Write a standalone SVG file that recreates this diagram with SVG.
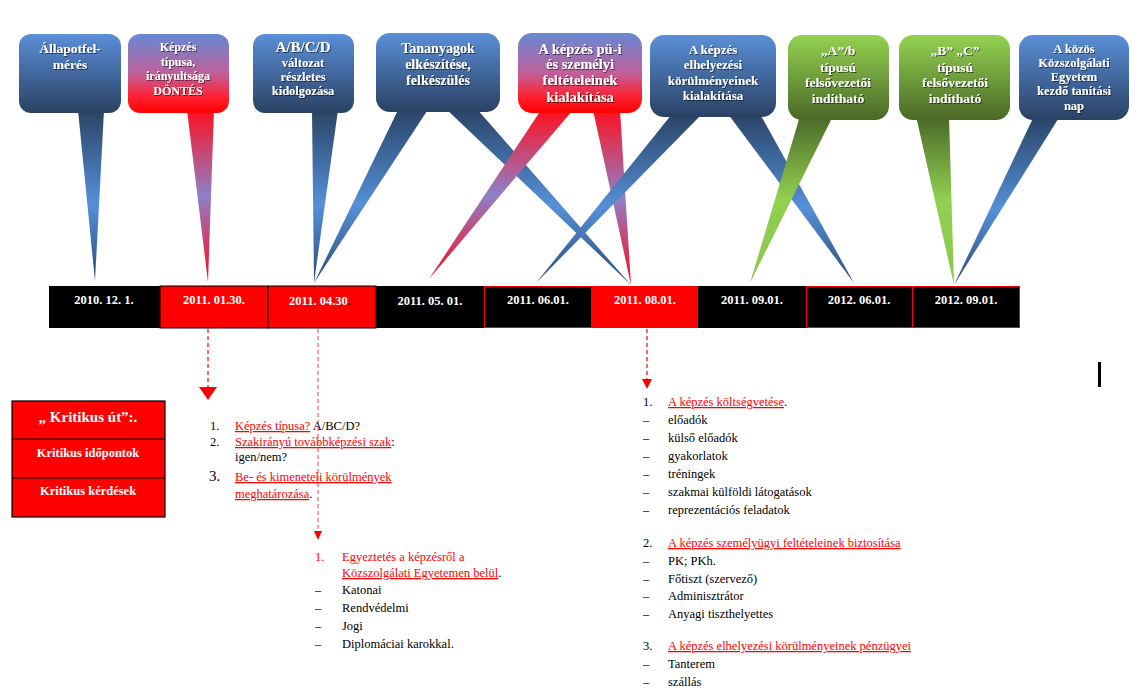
<svg xmlns="http://www.w3.org/2000/svg" width="1143" height="698" viewBox="0 0 1143 698">
<defs>
<linearGradient id="gBox" x1="0" y1="0" x2="0" y2="1"><stop offset="0" stop-color="#5A8FD8"/><stop offset="1" stop-color="#2A4163"/></linearGradient>
<linearGradient id="gRedBox" x1="0" y1="0" x2="0" y2="1"><stop offset="0" stop-color="#6688D4"/><stop offset="0.5" stop-color="#C0609A"/><stop offset="0.8" stop-color="#FF2030"/><stop offset="1" stop-color="#FF0000"/></linearGradient>
<linearGradient id="gGreenBox" x1="0" y1="0" x2="0" y2="1"><stop offset="0" stop-color="#94D251"/><stop offset="1" stop-color="#4A6827"/></linearGradient>
<linearGradient id="gTail" x1="0" y1="0" x2="0" y2="1"><stop offset="0" stop-color="#2A4366"/><stop offset="0.55" stop-color="#5590D8"/><stop offset="1" stop-color="#2E4C78"/></linearGradient>
<linearGradient id="gRedTail" x1="0" y1="0" x2="0" y2="1"><stop offset="0" stop-color="#FF1020"/><stop offset="0.5" stop-color="#8E80C8"/><stop offset="1" stop-color="#FF0818"/></linearGradient>
<linearGradient id="gGreenTail" x1="0" y1="0" x2="0" y2="1"><stop offset="0" stop-color="#4A6827"/><stop offset="0.5" stop-color="#92D050"/><stop offset="1" stop-color="#8CC64C"/></linearGradient>
<filter id="sh" x="-10%" y="-10%" width="120%" height="130%"><feDropShadow dx="1" dy="1" stdDeviation="0.7" flood-color="#000" flood-opacity="0.55"/></filter>
</defs>
<style>
.bt{font-family:"Liberation Serif","DejaVu Serif",serif;font-weight:bold;fill:#fff;text-anchor:middle;filter:url(#sh)}
.dt{font-family:"Liberation Serif","DejaVu Serif",serif;font-weight:bold;fill:#fff;font-size:12.5px;text-anchor:middle}
.lt{font-family:"Liberation Serif","DejaVu Serif",serif;font-size:12.5px;fill:#000}
.big{font-size:15px}
.r{fill:#FF0000}
.u{fill:#FF0000;text-decoration:underline}
.dash{fill:none;stroke-width:1.2;stroke-dasharray:4 3}
.ah{fill:#FF0000}
.kt{font-family:"Liberation Serif","DejaVu Serif",serif;font-weight:bold;fill:#fff;text-anchor:middle}
</style>
<rect width="1143" height="698" fill="#fff"/>

<g id="tails">
<polygon points="78,110 104,110 95,281" fill="url(#gTail)"/>
<polygon points="187,110 214,110 208,282" fill="url(#gRedTail)"/>
<polygon points="312,110 338,110 314,283" fill="url(#gTail)"/>
<polygon points="399,108 429,108 314,283" fill="url(#gTail)"/>
<polygon points="445,108 476,108 631,285" fill="url(#gTail)"/>
<polygon points="541,110 573,110 429,279" fill="url(#gRedTail)"/>
<polygon points="593,110 620,110 631,285" fill="url(#gRedTail)"/>
<polygon points="672,114 702,114 536,283" fill="url(#gTail)"/>
<polygon points="728,114 760,114 854,283" fill="url(#gTail)"/>
<polygon points="800,116 833,116 750,283" fill="url(#gGreenTail)"/>
<polygon points="916,116 949,116 954,285" fill="url(#gGreenTail)"/>
<polygon points="1034,116 1060,116 954,285" fill="url(#gTail)"/>
</g>

<g id="c1"><rect x="19" y="34" width="102" height="79" rx="12" fill="url(#gBox)"/>
<text class="bt" font-size="13.5" x="70"><tspan x="70" y="53">Állapotfel-</tspan><tspan x="70" y="69">mérés</tspan></text></g>
<g id="c2"><rect x="128" y="34" width="101" height="79" rx="12" fill="url(#gRedBox)"/>
<text class="bt" font-size="12" x="178"><tspan x="178" y="51">Képzés</tspan><tspan x="178" y="66">típusa,</tspan><tspan x="178" y="80">irányultsága</tspan><tspan x="178" y="95">DÖNTÉS</tspan></text></g>
<g id="c3"><rect x="253" y="34" width="101" height="79" rx="12" fill="url(#gBox)"/>
<text class="bt" x="303"><tspan x="303" y="52" font-size="15">A/B/C/D</tspan><tspan x="303" y="67" font-size="12.5">változat</tspan><tspan x="303" y="81" font-size="12.5">részletes</tspan><tspan x="303" y="95" font-size="12.5">kidolgozása</tspan></text></g>
<g id="c4"><rect x="376" y="33" width="124" height="79" rx="14" fill="url(#gBox)"/>
<text class="bt" font-size="14" x="438"><tspan x="438" y="53">Tananyagok</tspan><tspan x="438" y="69">elkészítése,</tspan><tspan x="438" y="85">felkészülés</tspan></text></g>
<g id="c5"><rect x="518" y="33" width="124" height="80" rx="14" fill="url(#gRedBox)"/>
<text class="bt" font-size="14.5" x="580"><tspan x="580" y="54">A képzés pü-i</tspan><tspan x="580" y="69">és személyi</tspan><tspan x="580" y="85">feltételeinek</tspan><tspan x="580" y="102">kialakítása</tspan></text></g>
<g id="c6"><rect x="650" y="35" width="126" height="82" rx="14" fill="url(#gBox)"/>
<text class="bt" font-size="13" x="713"><tspan x="713" y="54">A képzés</tspan><tspan x="713" y="69">elhelyezési</tspan><tspan x="713" y="85">körülményeinek</tspan><tspan x="713" y="100">kialakítása</tspan></text></g>
<g id="c7"><rect x="788" y="35" width="101" height="85" rx="14" fill="url(#gGreenBox)"/>
<text class="bt" font-size="13.5" x="838"><tspan x="838" y="55">„A”/b</tspan><tspan x="838" y="72">típusú</tspan><tspan x="838" y="87">felsővezetői</tspan><tspan x="838" y="103">indítható</tspan></text></g>
<g id="c8"><rect x="899" y="35" width="111" height="85" rx="14" fill="url(#gGreenBox)"/>
<text class="bt" font-size="13.5" x="955"><tspan x="955" y="55">„B” „C”</tspan><tspan x="955" y="72">típusú</tspan><tspan x="955" y="87">felsővezetői</tspan><tspan x="955" y="103">indítható</tspan></text></g>
<g id="c9"><rect x="1019" y="35" width="110" height="85" rx="14" fill="url(#gBox)"/>
<text class="bt" font-size="12.5" x="1074"><tspan x="1074" y="53">A közös</tspan><tspan x="1074" y="67">Közszolgálati</tspan><tspan x="1074" y="81">Egyetem</tspan><tspan x="1074" y="95">kezdő tanítási</tspan><tspan x="1074" y="110">nap</tspan></text></g>

<g id="timeline">
<rect x="49" y="286" width="111" height="42" fill="#000"/>
<rect x="160" y="286" width="108" height="42" fill="#FF0000" stroke="#000" stroke-width="1"/>
<rect x="268" y="286" width="108" height="42" fill="#FF0000" stroke="#000" stroke-width="1"/>
<rect x="376" y="286" width="108" height="42" fill="#000"/>
<rect x="484.5" y="286.5" width="107" height="41" fill="#000" stroke="#FF0000" stroke-width="1"/>
<rect x="592" y="286" width="106" height="42" fill="#FF0000"/>
<rect x="698" y="286" width="108" height="42" fill="#000"/>
<rect x="806.5" y="286.5" width="106" height="41" fill="#000" stroke="#FF0000" stroke-width="1"/>
<rect x="912.5" y="286.5" width="107" height="41" fill="#000" stroke="#FF0000" stroke-width="1"/>
<text class="dt" x="104" y="304">2010. 12. 1.</text>
<text class="dt" x="214" y="304">2011. 01.30.</text>
<text class="dt" x="320" y="305">2011. 04.30<tspan fill="#000">.</tspan></text>
<text class="dt" x="430" y="305">2011. 05. 01.</text>
<text class="dt" x="538" y="304">2011. 06.01.</text>
<text class="dt" x="645" y="304">2011. 08.01.</text>
<text class="dt" x="752" y="304">2011. 09.01.</text>
<text class="dt" x="859" y="304">2012. 06.01.</text>
<text class="dt" x="966" y="304">2012. 09.01.</text>
</g>

<g id="connectors">
<line class="dash" x1="208" y1="329" x2="208" y2="387" stroke="#FF0000"/>
<polygon class="ah" points="199,387 217,387 208,400"/>
<line class="dash" x1="318" y1="329" x2="318" y2="532" stroke="#F45A6A"/>
<polygon class="ah" points="314,531 322,531 318,540"/>
<line class="dash" x1="647" y1="329" x2="647" y2="380" stroke="#FF0000"/>
<polygon class="ah" points="642,379 652,379 647,389"/>
</g>

<rect x="1098" y="362" width="3" height="25" fill="#000"/>

<g id="kritikus">
<rect x="12" y="401" width="153" height="116" fill="#FF0000" stroke="#000" stroke-width="1.2"/>
<line x1="12" y1="439" x2="165" y2="439" stroke="#000" stroke-width="1"/>
<line x1="12" y1="478" x2="165" y2="478" stroke="#000" stroke-width="1"/>
<text class="kt" x="88" y="422" font-size="15">„ Kritikus út”:.</text>
<text class="kt" x="88" y="457" font-size="12.5">Kritikus időpontok</text>
<text class="kt" x="88" y="495" font-size="12.5">Kritikus kérdések</text>
</g>

<g id="list1">
<text class="lt" x="210" y="430">1.</text>
<text class="lt" x="235" y="430"><tspan class="u">Képzés típusa?</tspan> A/BC/D?</text>
<text class="lt" x="210" y="446">2.</text>
<text class="lt" x="235" y="446"><tspan class="u">Szakirányú továbbképzési szak</tspan>:</text>
<text class="lt" x="235" y="461">igen/nem?</text>
<text class="lt big" x="209" y="481">3.</text>
<text class="lt" x="235" y="481"><tspan class="u">Be- és kimeneteli körülmények</tspan></text>
<text class="lt" x="235" y="498"><tspan class="u">meghatározása</tspan>.</text>
</g>

<g id="list2">
<text class="lt r" x="315" y="561">1.</text>
<text class="lt r" x="342" y="561">Egyeztetés a képzésről a</text>
<text class="lt" x="342" y="577"><tspan class="u">Közszolgálati Egyetemen belül</tspan>.</text>
<text class="lt" x="315" y="594">–</text><text class="lt" x="342" y="594">Katonai</text>
<text class="lt" x="315" y="612">–</text><text class="lt" x="342" y="612">Rendvédelmi</text>
<text class="lt" x="315" y="630">–</text><text class="lt" x="342" y="630">Jogi</text>
<text class="lt" x="315" y="648">–</text><text class="lt" x="342" y="648">Diplomáciai karokkal.</text>
</g>

<g id="list3">
<text class="lt" x="643" y="406">1.</text>
<text class="lt" x="668" y="406"><tspan class="u">A képzés költségvetése</tspan>.</text>
<text class="lt" x="643" y="424">–</text><text class="lt" x="668" y="424">előadók</text>
<text class="lt" x="643" y="442">–</text><text class="lt" x="668" y="442">külső előadók</text>
<text class="lt" x="643" y="460">–</text><text class="lt" x="668" y="460">gyakorlatok</text>
<text class="lt" x="643" y="478">–</text><text class="lt" x="668" y="478">tréningek</text>
<text class="lt" x="643" y="496">–</text><text class="lt" x="668" y="496">szakmai külföldi látogatások</text>
<text class="lt" x="643" y="514">–</text><text class="lt" x="668" y="514">reprezentációs feladatok</text>
<text class="lt" x="643" y="547">2.</text>
<text class="lt" x="668" y="547"><tspan class="u">A képzés személyügyi feltételeinek biztosítása</tspan></text>
<text class="lt" x="643" y="565">–</text><text class="lt" x="668" y="565">PK; PKh.</text>
<text class="lt" x="643" y="583">–</text><text class="lt" x="668" y="583">Főtiszt (szervező)</text>
<text class="lt" x="643" y="600">–</text><text class="lt" x="668" y="600">Adminisztrátor</text>
<text class="lt" x="643" y="618">–</text><text class="lt" x="668" y="618">Anyagi tiszthelyettes</text>
<text class="lt" x="643" y="650">3.</text>
<text class="lt" x="668" y="650"><tspan class="u">A képzés elhelyezési körülményeinek pénzügyei</tspan></text>
<text class="lt" x="643" y="668">–</text><text class="lt" x="668" y="668">Tanterem</text>
<text class="lt" x="643" y="686">–</text><text class="lt" x="668" y="686">szállás</text>
</g>
</svg>
